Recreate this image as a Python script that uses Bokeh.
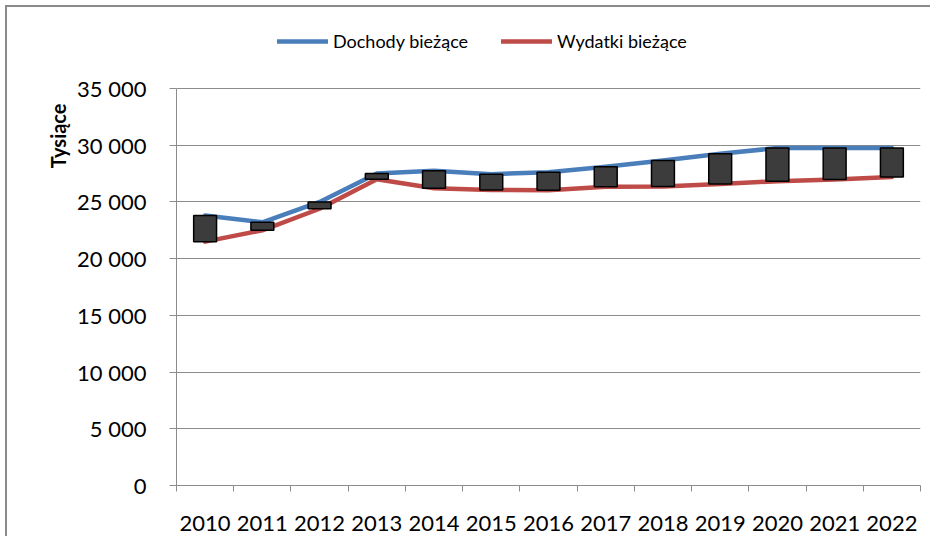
from bokeh.plotting import figure
from bokeh.models import (ColumnDataSource, FixedTicker, Legend, LegendItem,
                          Range1d, Title)
from bokeh.embed import file_html
from bokeh.resources import INLINE

# ---- data ----
years = ["2010", "2011", "2012", "2013", "2014", "2015", "2016",
         "2017", "2018", "2019", "2020", "2021", "2022"]
dochody = [23800, 23200, 25000, 27500, 27750, 27450, 27620,
           28100, 28660, 29250, 29750, 29750, 29750]
wydatki = [21500, 22500, 24400, 27000, 26200, 26050, 26040,
           26340, 26370, 26570, 26830, 26980, 27190]
y_ticks = [0, 5000, 10000, 15000, 20000, 25000, 30000, 35000]

FONT = "Lato"
GRID = "#8c8c8c"

# layout (page pixels)
ORIGIN = 7            # canvas origin after outer margin + border
W, H = 925, 531       # canvas size
FRAME_TOP = 14        # top of frame (legend lives inside it)
AXIS_TOP = 88         # where 35 000 sits
AXIS_BOTTOM = 485     # where 0 sits
FRAME_RIGHT = 920
y_max = y_ticks[-1]
y_end = y_max + y_max * (AXIS_TOP - FRAME_TOP) / (AXIS_BOTTOM - AXIS_TOP)

idx = list(range(len(years)))
src = ColumnDataSource(dict(
    x=idx,
    dochody=dochody,
    wydatki=wydatki,
    top=[max(a, b) for a, b in zip(dochody, wydatki)],
    bottom=[min(a, b) for a, b in zip(dochody, wydatki)],
))

p = figure(width=W, height=H, output_backend="svg", toolbar_location=None,
           x_range=Range1d(-0.5, len(years) - 0.5), y_range=Range1d(0, y_end),
           min_border_left=176 - ORIGIN,
           min_border_right=ORIGIN + W - FRAME_RIGHT,
           min_border_top=FRAME_TOP - ORIGIN,
           min_border_bottom=ORIGIN + H - AXIS_BOTTOM,
           styles={"margin-left": "5px", "margin-top": "5px",
                   "border-left": "2px solid #8a8a8a",
                   "border-top": "2px solid #8a8a8a"})
p.outline_line_color = None
p.background_fill_color = "white"
p.border_fill_color = "white"

l1 = p.line("x", "dochody", source=src, line_color="#4A7EBB", line_width=4.5,
            line_join="round", line_cap="round")
l2 = p.line("x", "wydatki", source=src, line_color="#BE4B48", line_width=4.5,
            line_join="round", line_cap="round")
p.vbar(x="x", top="top", bottom="bottom", width=0.4, source=src,
       fill_color="#3C3C3C", line_color="black", line_width=1.5)

# x axis: labels at category centres, tick marks at boundaries (minor ticks)
p.xaxis.ticker = FixedTicker(ticks=idx,
                             minor_ticks=[i - 0.5 for i in range(len(years) + 1)])
p.xaxis.major_label_overrides = {i: y for i, y in zip(idx, years)}
p.xaxis.major_tick_out = 0
p.xaxis.major_tick_in = 0
p.xaxis.minor_tick_out = 6
p.xaxis.minor_tick_in = 0
p.xaxis.minor_tick_line_color = GRID
p.xaxis.axis_line_color = GRID
p.xaxis.major_label_standoff = 24
p.xaxis.major_label_text_font = FONT
p.xaxis.major_label_text_font_size = "22px"
p.xaxis.major_label_text_color = "black"
p.xgrid.grid_line_color = None

# y axis
p.yaxis.ticker = FixedTicker(ticks=y_ticks, minor_ticks=[])
p.yaxis.bounds = (0, y_max)
p.yaxis.major_label_overrides = {v: f"{v:,}".replace(",", " ") for v in y_ticks}
p.yaxis.major_tick_out = 7
p.yaxis.major_tick_in = 0
p.yaxis.major_tick_line_color = GRID
p.yaxis.axis_line_color = GRID
p.yaxis.major_label_standoff = 23
p.yaxis.major_label_text_font = FONT
p.yaxis.major_label_text_font_size = "22px"
p.yaxis.major_label_text_color = "black"
p.ygrid.grid_line_color = GRID
p.ygrid.grid_line_width = 1.2

# y axis title near the top
p.add_layout(Title(text="Tysiące", align="right", offset=103 - FRAME_TOP,
                   text_font=FONT, text_font_size="20px",
                   text_font_style="bold", text_color="black"), "left")

legend = Legend(items=[LegendItem(label="Dochody bieżące", renderers=[l1]),
                       LegendItem(label="Wydatki bieżące", renderers=[l2])],
                orientation="horizontal", location=(101, 433),
                glyph_width=51, glyph_height=20, label_standoff=5, spacing=33,
                padding=0, margin=0, border_line_color=None,
                background_fill_alpha=0,
                label_text_font=FONT, label_text_font_size="18px",
                label_text_color="black")
p.add_layout(legend, "center")

open("out.html", "w").write(file_html(p, INLINE))
